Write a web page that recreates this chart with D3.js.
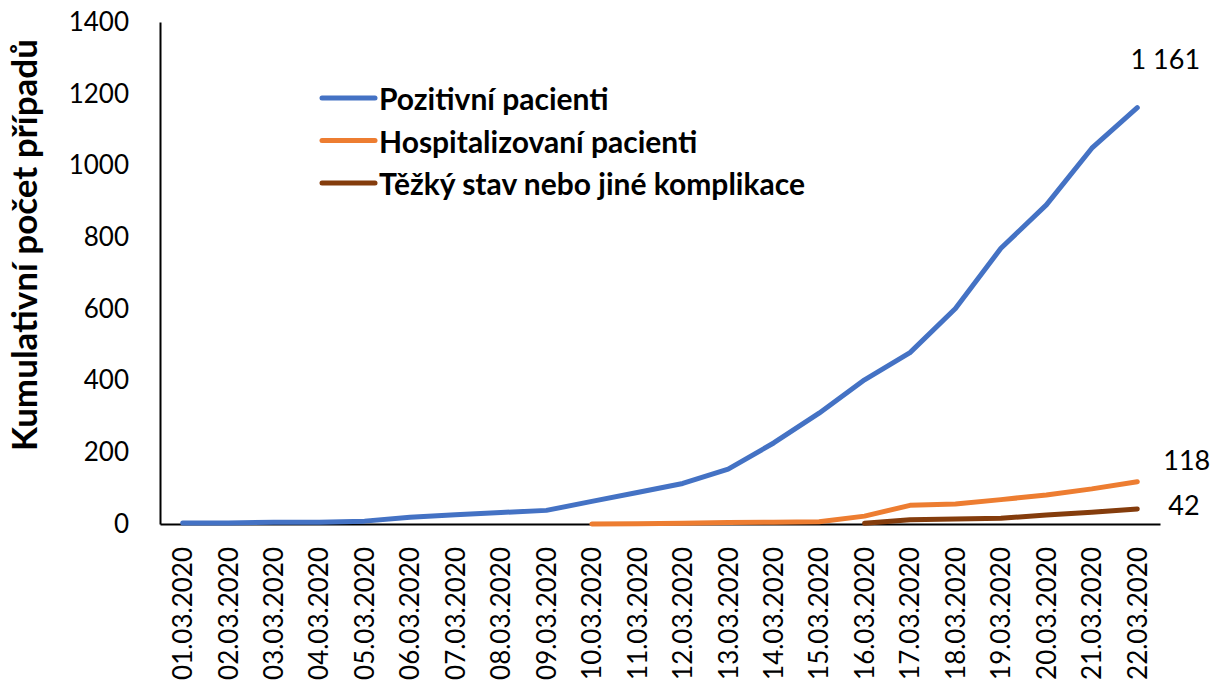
<!DOCTYPE html>
<html>
<head>
<meta charset="utf-8">
<script src="https://cdn.jsdelivr.net/npm/d3@7"></script>
<style>
  body { margin: 0; background: #fff; }
  svg { font-family: Lato, "Open Sans", sans-serif; }
  .tick text { font-size: 26px; fill: #000; font-family: Lato, sans-serif; }
  .legend text { font-size: 30px; font-weight: bold; }
</style>
</head>
<body>
<script>
// dates on the x axis
const days = ["01.03.2020", "02.03.2020", "03.03.2020", "04.03.2020", "05.03.2020", "06.03.2020",
  "07.03.2020", "08.03.2020", "09.03.2020", "10.03.2020", "11.03.2020", "12.03.2020", "13.03.2020",
  "14.03.2020", "15.03.2020", "16.03.2020", "17.03.2020", "18.03.2020", "19.03.2020", "20.03.2020",
  "21.03.2020", "22.03.2020"]

// cumulative counts, null = no value yet
const pozitivni = [3, 3, 5, 5, 8, 19, 26, 32, 38, 63, 88, 113, 153, 226, 309, 402, 478, 601, 769, 890, 1048, 1161]
const hospital = [null, null, null, null, null, null, null, null, null, 0, 1, 2, 4, 5, 6, 22, 52, 56, 68, 81, 98, 118]
const tezky = [null, null, null, null, null, null, null, null, null, null, null, null, null, null, null, 2, 12, 14, 16, 25, 33, 42]

const yTicks = [0, 200, 400, 600, 800, 1000, 1200, 1400]

const series = [
  { name: "Pozitivní pacienti", values: pozitivni, color: "#4472C4", label: "1 161" },
  { name: "Hospitalizovaní pacienti", values: hospital, color: "#ED7D31", label: "118" },
  { name: "Těžký stav nebo jiné komplikace", values: tezky, color: "#843C0C", label: "42" }
]

let svg = d3.select("body").append("svg")
  .attr("width", 1216)
  .attr("height", 680)

let x = d3.scaleBand().domain(days).range([160, 1160])
let y = d3.scaleLinear().domain([0, 1400]).range([524, 22])
let cx = d => x(d) + x.bandwidth() / 2

// y axis
let yAxis = svg.append("g")
  .attr("transform", "translate(160,0)")
  .attr("font-family", "Lato, sans-serif")
  .call(d3.axisLeft(y).tickValues(yTicks).tickFormat(d3.format("d")).tickSize(0).tickPadding(31))
yAxis.select(".domain").attr("stroke", "#000").attr("stroke-width", 2)

// x axis with rotated dates
let xAxis = svg.append("g")
  .attr("transform", "translate(0,524)")
  .attr("font-family", "Lato, sans-serif")
  .call(d3.axisBottom(x).tickSize(0).tickSizeOuter(0))
xAxis.select(".domain").attr("stroke", "#000").attr("stroke-width", 2)
xAxis.selectAll(".tick text")
  .attr("transform", "rotate(-90)")
  .attr("text-anchor", "end")
  .attr("x", -23)
  .attr("y", 0)
  .attr("dy", "0.36em")

// axis title
svg.append("text")
  .attr("transform", "translate(37,245) rotate(-90)")
  .attr("text-anchor", "middle")
  .style("font-size", "35px")
  .style("font-weight", "bold")
  .text("Kumulativní počet případů")

let line = d3.line()
  .defined(d => d.v !== null)
  .x(d => cx(d.day))
  .y(d => y(d.v))

for (let s of series) {
  let pts = days.map((day, i) => ({ day: day, v: s.values[i] }))
  svg.append("path")
    .datum(pts)
    .attr("d", line)
    .attr("fill", "none")
    .attr("stroke", s.color)
    .attr("stroke-width", 5)
    .attr("stroke-linecap", "round")
    .attr("stroke-linejoin", "round")
}

// end labels
let last = days[days.length - 1]
let labelOffsets = [[28, -49, "middle"], [26, -22, "start"], [31, -4, "start"]]
series.forEach((s, i) => {
  let o = labelOffsets[i]
  svg.append("text")
    .attr("x", cx(last) + o[0])
    .attr("y", y(s.values[s.values.length - 1]) + o[1])
    .attr("text-anchor", o[2])
    .attr("dominant-baseline", "central")
    .style("font-size", "27px")
    .text(s.label)
})

// legend
let legend = svg.append("g").attr("class", "legend")
  .selectAll("g")
  .data(series)
  .enter()
  .append("g")
  .attr("transform", (d, i) => `translate(322, ${98 + i * 42.5})`)

legend.append("line")
  .attr("x1", 0).attr("x2", 53)
  .attr("stroke", d => d.color)
  .attr("stroke-width", 5)
  .attr("stroke-linecap", "round")

legend.append("text")
  .attr("x", 57)
  .attr("dominant-baseline", "central")
  .text(d => d.name)
</script>
</body>
</html>
